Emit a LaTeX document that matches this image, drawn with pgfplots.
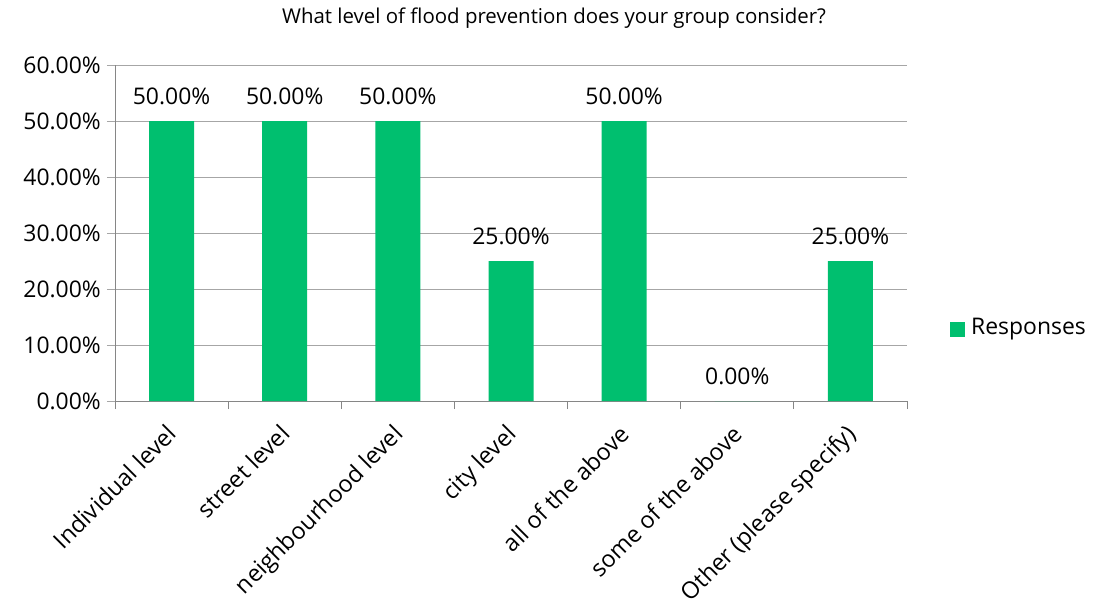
\documentclass[border=0pt]{standalone}
\usepackage{pgfplots}
\pgfplotsset{compat=1.18}
\usepackage{fontspec}
\setmainfont{Open Sans}
\definecolor{barGreen}{HTML}{00BF6F}
\definecolor{gridGray}{HTML}{A6A6A6}
\definecolor{axisGray}{HTML}{868686}
\begin{document}
\begin{tikzpicture}
\begin{axis}[
  name=ax,
  width=792bp, height=336bp, scale only axis,
  xmin=-0.5, xmax=6.5, ymin=0, ymax=60,
  axis x line*=bottom, axis y line*=left,
  axis line style={axisGray, line width=0.9bp, -},
  xtick={0,...,6},
  xticklabels={Individual level, street level, neighbourhood level, city level, all of the above, some of the above, Other (please specify)},
  xticklabel style={xshift=-6bp, yshift=-11bp, rotate=45, anchor=north east, font=\fontsize{23.5}{27}\selectfont, inner sep=2bp},
  major x tick style={draw=none},
  minor xtick={-0.5,0.5,...,6.5},
  minor x tick style={axisGray, line width=0.9bp},
  minor tick length=8bp,
  ytick={0,10,...,60},
  ymajorgrids, major grid style={gridGray, line width=0.9bp},
  major y tick style={gridGray, line width=0.9bp},
  major tick length=8bp,
  tick align=outside,
  yticklabel={\pgfmathprintnumber[fixed, fixed zerofill, precision=2]{\tick}\%},
  yticklabel style={font=\fontsize{23}{27}\selectfont, inner sep=2bp, xshift=-4bp},
  /pgf/number format/assume math mode=true,
  nodes near coords={\pgfmathprintnumber[fixed, fixed zerofill, precision=2]{\pgfplotspointmeta}\%},
  nodes near coords style={font=\fontsize{23}{27}\selectfont, anchor=south, yshift=13bp},
  point meta=explicit,
  clip=false,
]
\addplot[ybar, bar width=45bp, fill=barGreen, draw=none]
  table[x=x, y=y, meta=y] {
    x y
    0 50
    1 50
    2 50
    3 25
    4 50
    5 0
    6 25
  };
\end{axis}
% title and legend
\node[font=\fontsize{20.5}{24}\selectfont, anchor=center] at ([xshift=439bp, yshift=383bp]ax.south west) {What level of flood prevention does your group consider?};
\fill[barGreen] ([xshift=835bp, yshift=64bp]ax.south west) rectangle ++(15bp,15bp);
\node[font=\fontsize{23}{27}\selectfont, anchor=west, inner sep=0pt] at ([xshift=856bp, yshift=72bp]ax.south west) {Responses};
\pgfresetboundingbox
\path[use as bounding box] ([xshift=-115bp, yshift=-200bp]ax.south west) rectangle ++(1095bp, 601bp);
\end{tikzpicture}
\end{document}
